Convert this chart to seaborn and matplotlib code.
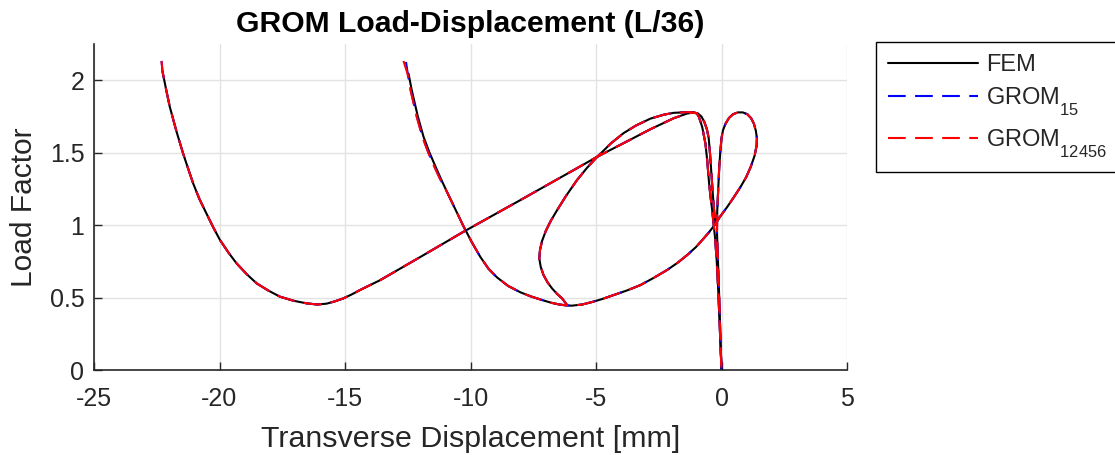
import matplotlib
matplotlib.use("Agg")
import matplotlib.pyplot as plt
import seaborn as sns
import pandas as pd
from matplotlib.lines import Line2D

# ---------------- data ----------------
# Branch A: left U-curve -> straight line -> limit point -> stem to origin
fem_a_x = [-22.27, -22.12, -21.98, -21.72, -21.45, -21.25, -21.05, -20.80, -20.52, -20.25,
           -19.98, -19.65, -19.32, -18.92, -18.52, -18.05, -17.59, -17.05, -16.53, -16.10,
           -15.73, -15.40, -15.07, -14.75, -14.40, -13.60, -12.00, -10.28, -8.02, -6.00,
           -4.96, -3.63, -2.83, -1.90, -1.37, -1.10, -0.98, -0.90, -0.77, -0.64,
           -0.57, -0.50, -0.44, -0.37, -0.31, -0.25, -0.19, -0.13, -0.07, 0.00]
fem_a_y = [2.060, 1.930, 1.816, 1.650, 1.494, 1.390, 1.288, 1.180, 1.080, 0.985,
           0.897, 0.812, 0.736, 0.662, 0.598, 0.548, 0.506, 0.478, 0.460, 0.452,
           0.458, 0.474, 0.494, 0.520, 0.552, 0.620, 0.780, 0.954, 1.172, 1.369,
           1.471, 1.590, 1.662, 1.738, 1.770, 1.778, 1.770, 1.747, 1.678, 1.563,
           1.448, 1.300, 1.200, 1.100, 1.000, 0.900, 0.750, 0.550, 0.300, 0.000]

# Branch B: descending curve -> lower ellipse arc -> right loop -> stem
fem_b_x = [-12.47, -12.34, -12.10, -11.87, -11.64, -11.41, -11.18, -10.94, -10.62, -10.28,
           -9.95, -9.61, -9.28, -8.95, -8.50, -8.02, -7.60, -7.15, -6.80, -6.49,
           -6.20, -5.96, -5.55, -5.16, -4.75, -4.30, -3.75, -3.23, -2.70, -2.17,
           -1.75, -1.37, -1.02, -0.71, -0.50, -0.31, -0.05, 0.23, 0.50, 0.76,
           0.98, 1.16, 1.32, 1.40, 1.41, 1.37, 1.29, 1.18, 1.03, 0.85,
           0.65, 0.46, 0.30, 0.16, 0.06, 0.00, -0.05, -0.09, -0.13, -0.17,
           -0.18, -0.16, -0.13, -0.10, -0.07, -0.04, 0.00]
fem_b_y = [2.046, 1.931, 1.751, 1.609, 1.503, 1.410, 1.320, 1.230, 1.115, 0.992,
           0.883, 0.781, 0.698, 0.640, 0.580, 0.537, 0.508, 0.483, 0.465, 0.453,
           0.446, 0.444, 0.452, 0.469, 0.490, 0.517, 0.550, 0.586, 0.636, 0.690,
           0.740, 0.793, 0.848, 0.908, 0.950, 0.993, 1.060, 1.126, 1.195, 1.264,
           1.330, 1.400, 1.480, 1.550, 1.600, 1.650, 1.700, 1.738, 1.765, 1.778,
           1.778, 1.765, 1.740, 1.700, 1.655, 1.600, 1.500, 1.400, 1.250, 1.100,
           0.950, 0.850, 0.700, 0.550, 0.380, 0.200, 0.000]

# Branch C: cusp -> left / upper ellipse arc -> limit point -> crossing
fem_c_x = [-6.15, -6.35, -6.55, -6.75, -6.93, -7.09, -7.20, -7.26, -7.23, -7.15,
           -7.00, -6.80, -6.55, -6.20, -5.76, -5.36, -4.96, -4.40, -3.90, -3.40,
           -2.83, -2.30, -1.90, -1.30, -0.95, -0.80, -0.68, -0.58, -0.51, -0.46,
           -0.40, -0.34, -0.28, -0.24]
fem_c_y = [0.448, 0.494, 0.525, 0.563, 0.605, 0.655, 0.710, 0.770, 0.830, 0.890,
           0.960, 1.030, 1.103, 1.200, 1.310, 1.395, 1.470, 1.565, 1.635, 1.688,
           1.735, 1.762, 1.775, 1.780, 1.772, 1.750, 1.710, 1.660, 1.600, 1.500,
           1.350, 1.200, 1.070, 1.000]

# GROM reduced models: same path, slightly longer at the two upper ends and
# marginally to the left on the upper descending branch
grom15_a_head_x, grom15_a_head_y = [-22.31], [2.133]
grom12456_a_head_x, grom12456_a_head_y = [-22.31], [2.133]
grom15_desc_x = [-12.57, -12.50, -12.38, -12.14, -11.91, -11.68, -11.45, -11.21]
grom15_desc_y = [2.126, 2.046, 1.931, 1.751, 1.609, 1.503, 1.410, 1.320]
grom12456_desc_x = [-12.67, -12.51, -12.39, -12.15, -11.92, -11.69, -11.46, -11.22]
grom12456_desc_y = [2.133, 2.046, 1.931, 1.751, 1.609, 1.503, 1.410, 1.320]

x_ticks = [-25, -20, -15, -10, -5, 0, 5]
x_tick_labels = ["-25", "-20", "-15", "-10", "-5", "0", "5"]
y_ticks = [0, 0.5, 1, 1.5, 2]
y_tick_labels = ["0", "0.5", "1", "1.5", "2"]

series_names = ["FEM", "GROM$_{15}$", "GROM$_{12456}$"]
series_colors = ["#000000", "#0000ff", "#ff0000"]


def build_frame(segments):
    rows = []
    for sid, (xs, ys) in enumerate(segments):
        for xv, yv in zip(xs, ys):
            rows.append({"seg": sid, "x": xv, "y": yv})
    return pd.DataFrame(rows)


n_desc = len(grom15_desc_x) - 1  # FEM points replaced by the GROM head
fem_df = build_frame([(fem_a_x, fem_a_y), (fem_b_x, fem_b_y), (fem_c_x, fem_c_y)])
g15_df = build_frame([
    (grom15_a_head_x + fem_a_x, grom15_a_head_y + fem_a_y),
    (grom15_desc_x + fem_b_x[n_desc:], grom15_desc_y + fem_b_y[n_desc:]),
    (fem_c_x, fem_c_y)])
g12_df = build_frame([
    (grom12456_a_head_x + fem_a_x, grom12456_a_head_y + fem_a_y),
    (grom12456_desc_x + fem_b_x[n_desc:], grom12456_desc_y + fem_b_y[n_desc:]),
    (fem_c_x, fem_c_y)])

# ---------------- style ----------------
sns.set_style("ticks")
plt.rcParams["font.family"] = ["Liberation Sans", "DejaVu Sans"]
plt.rcParams["mathtext.default"] = "regular"
plt.rcParams["axes.unicode_minus"] = False
# MATLAB drops subscripts further below the baseline than mathtext does
try:
    import matplotlib._mathtext as _mt
    _mt.FontConstantsBase.subdrop = 0.85
    _mt.FontConstantsBase.sub1 = 0.85
except Exception:
    pass

W, H = 1115, 455
fig = plt.figure(figsize=(W / 100, H / 100), dpi=100)
ax = fig.add_axes([94 / W, 1 - 370 / H, (847 - 94) / W, (370 - 44) / H])

lw = 1.5
dash = (8.5, 4.5)
sns.lineplot(data=fem_df, x="x", y="y", units="seg", estimator=None, sort=False,
             color=series_colors[0], linewidth=lw, ax=ax, legend=False)
sns.lineplot(data=g15_df, x="x", y="y", units="seg", estimator=None, sort=False,
             color=series_colors[1], linewidth=lw, ax=ax, legend=False)
sns.lineplot(data=g12_df, x="x", y="y", units="seg", estimator=None, sort=False,
             color=series_colors[2], linewidth=lw, ax=ax, legend=False)
n_fem = fem_df.seg.nunique()
for ln in ax.get_lines()[n_fem:]:
    ln.set_dashes(dash)
    ln.set_dash_capstyle("butt")
for ln in ax.get_lines():
    ln.set_solid_joinstyle("round")

ax.set_xlim(-25, 5)
ax.set_ylim(0, 2.25)
ax.set_xticks(x_ticks)
ax.set_xticklabels(x_tick_labels)
ax.set_yticks(y_ticks)
ax.set_yticklabels(y_tick_labels)
ax.grid(True, color="#e2e2e2", linewidth=1.0)
ax.set_axisbelow(True)
for s in ["top", "right"]:
    ax.spines[s].set_visible(False)
for s in ["left", "bottom"]:
    ax.spines[s].set_color("#262626")
    ax.spines[s].set_linewidth(1.2)
ax.tick_params(direction="in", length=6, width=1, colors="#262626",
               labelsize=18, pad=12)
ax.tick_params(axis="y", pad=7)

ax.set_xlabel("Transverse Displacement [mm]", fontsize=21.9, color="#262626", labelpad=10)
ax.set_ylabel("Load Factor", fontsize=21.5, color="#262626", labelpad=8)
ax.set_title("GROM Load-Displacement (L/36)", fontsize=21.7, fontweight="bold",
             color="#000000", pad=9)

handles = [Line2D([], [], color=series_colors[0], linewidth=lw),
           Line2D([], [], color=series_colors[1], linewidth=lw, dashes=dash),
           Line2D([], [], color=series_colors[2], linewidth=lw, dashes=dash)]
leg = fig.legend(handles, series_names, loc="upper left",
                 bbox_to_anchor=(876 / W, 1 - 42 / H), fontsize=17,
                 frameon=True, fancybox=False, framealpha=1, edgecolor="#000000",
                 handlelength=3.8, handletextpad=0.35, borderaxespad=0,
                 borderpad=0.5, labelspacing=0.42)
leg.get_frame().set_linewidth(1.0)

fig.savefig("out.png", dpi=100)
